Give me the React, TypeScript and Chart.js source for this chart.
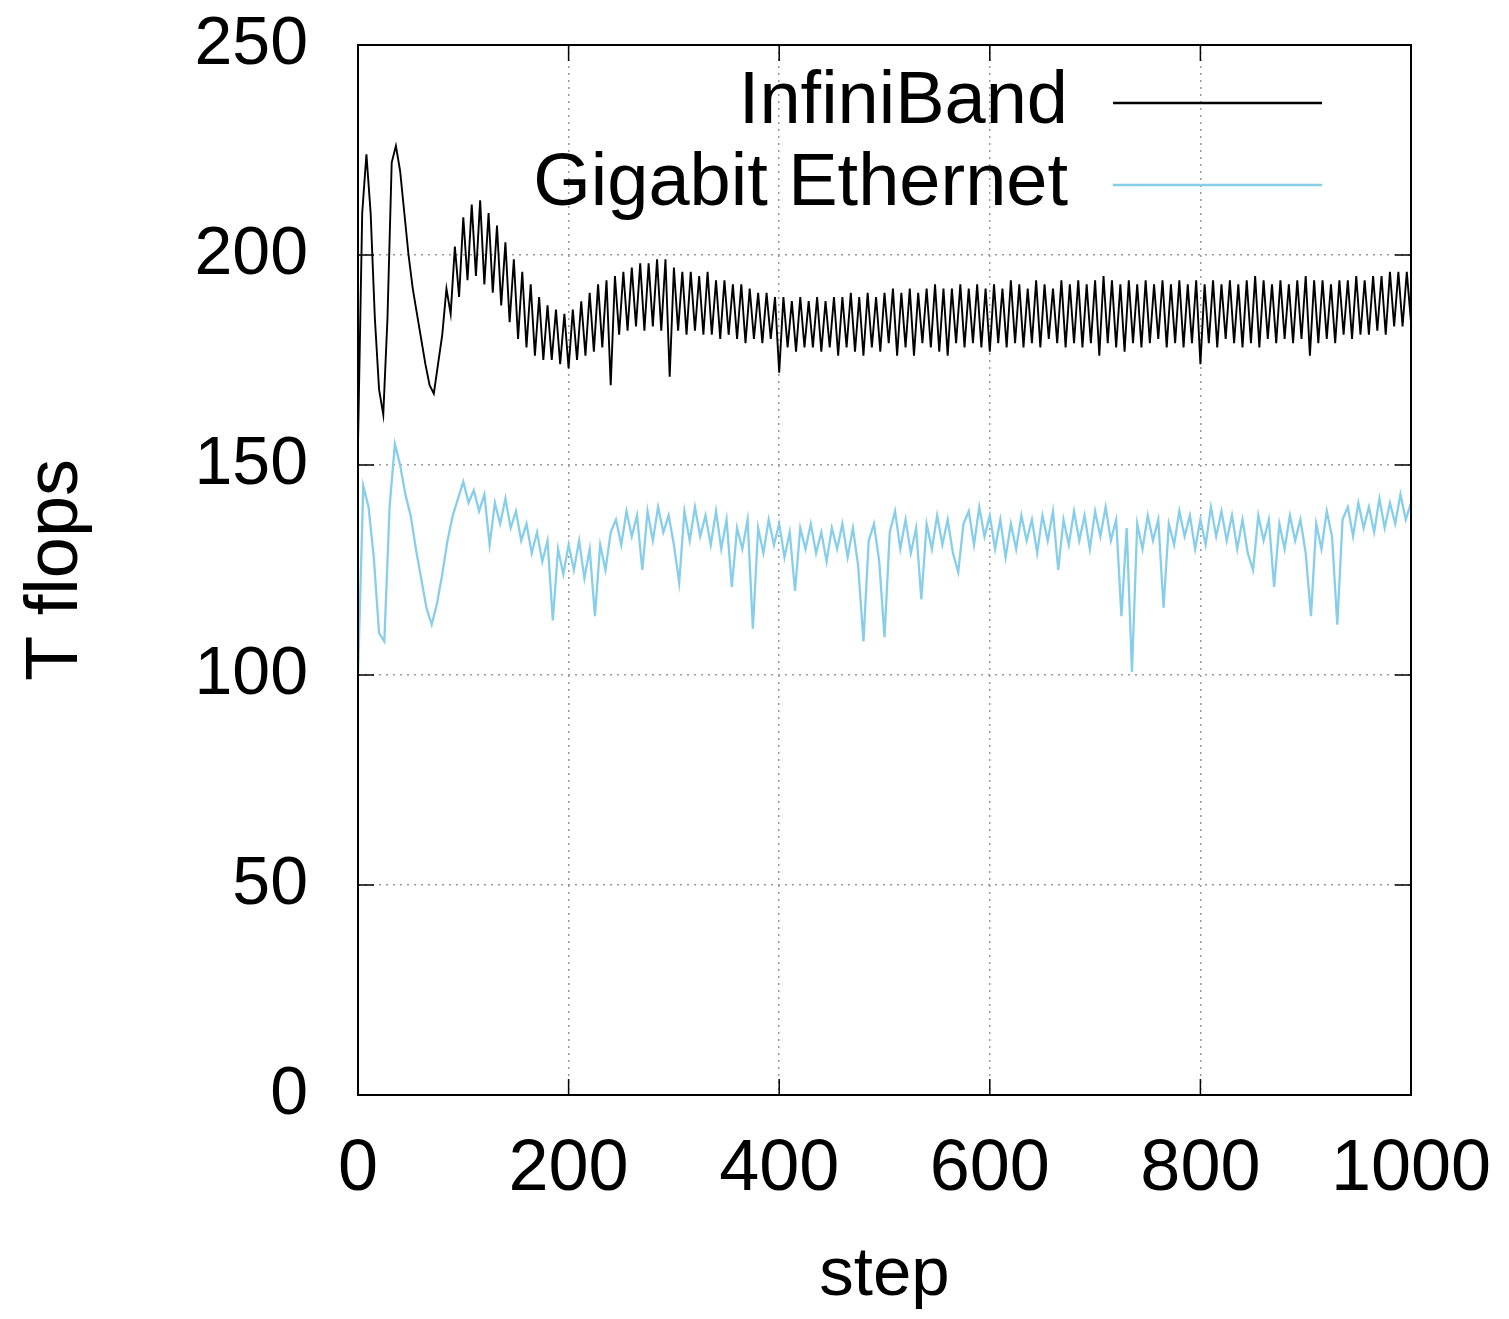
import React, { useEffect, useRef } from "react";
import { Chart, registerables } from "chart.js";

Chart.register(...registerables);

const FONT = '"Liberation Sans", Arial, Helvetica, sans-serif';

// Sampling grids (steps between stored values)
const INFINIBAND_STEP = 4;
const GIGABIT_STEP = 5;

const seriesLabels = ["InfiniBand", "Gigabit Ethernet"];
const seriesColors = ["#000000", "#87CEEB"];

const xTickValues = [0, 200, 400, 600, 800, 1000];
const yTickValues = [0, 50, 100, 150, 200, 250];

// InfiniBand T flops, one value every 4 steps (0..1000)
const infiniband = [
  155, 210, 224, 210, 185, 168, 162, 185, 222, 226, // 0-36
  220, 210, 200, 192, 186, 180, 174, 169, 167, 174, // 40-76
  181, 192, 186, 202, 190, 209, 194, 212, 195, 213, // 80-116
  193, 210, 191, 207, 188, 203, 184, 199, 180, 196, // 120-156
  178, 193, 176, 190, 175, 188, 175, 187, 174, 186, // 160-196
  173, 187, 175, 189, 176, 191, 177, 193, 178, 194, // 200-236
  169, 195, 181, 196, 182, 197, 183, 198, 182, 198, // 240-276
  183, 199, 182, 199, 171, 197, 182, 196, 181, 196, // 280-316
  182, 195, 181, 196, 181, 194, 180, 194, 181, 193, // 320-356
  180, 193, 179, 192, 180, 191, 179, 191, 180, 190, // 360-396
  172, 190, 178, 189, 177, 190, 178, 189, 178, 190, // 400-436
  177, 189, 178, 190, 176, 190, 178, 191, 177, 190, // 440-476
  176, 191, 178, 190, 177, 191, 179, 192, 176, 191, // 480-516
  178, 192, 176, 191, 179, 192, 178, 193, 177, 192, // 520-556
  176, 192, 179, 193, 178, 192, 179, 193, 178, 192, // 560-596
  177, 193, 179, 192, 178, 194, 179, 193, 178, 192, // 600-636
  179, 194, 178, 193, 180, 192, 179, 194, 178, 193, // 640-676
  179, 194, 178, 193, 179, 194, 176, 195, 179, 194, // 680-716
  178, 193, 177, 194, 179, 193, 178, 194, 179, 193, // 720-756
  180, 194, 178, 193, 179, 194, 178, 193, 179, 194, // 760-796
  174, 193, 179, 194, 178, 193, 180, 194, 179, 193, // 800-836
  178, 194, 179, 195, 178, 194, 180, 193, 179, 194, // 840-876
  180, 193, 179, 194, 180, 195, 176, 194, 179, 194, // 880-916
  180, 193, 179, 194, 181, 194, 180, 195, 181, 194, // 920-956
  181, 195, 182, 195, 181, 196, 183, 196, 183, 196, // 960-996
  184, // 1000
];

// Gigabit Ethernet T flops, one value every 5 steps (0..1000)
const gigabit = [
  100, 145, 140, 128, 110, 108, 140, 155, 150, 143, // 0-45
  138, 130, 123, 116, 112, 117, 124, 132, 138, 142, // 50-95
  146, 141, 144, 139, 143, 131, 141, 136, 142, 135, // 100-145
  139, 132, 136, 129, 134, 127, 132, 113, 130, 124, // 150-195
  131, 125, 132, 123, 130, 114, 131, 125, 134, 137, // 200-245
  131, 139, 133, 138, 125, 139, 132, 140, 134, 138, // 250-295
  131, 122, 139, 132, 140, 133, 138, 131, 139, 130, // 300-345
  137, 121, 135, 130, 137, 111, 135, 129, 137, 131, // 350-395
  136, 128, 134, 120, 135, 130, 136, 129, 134, 127, // 400-445
  135, 130, 136, 128, 135, 126, 108, 132, 136, 127, // 450-495
  109, 134, 139, 130, 137, 129, 135, 118, 136, 130, // 500-545
  138, 131, 137, 129, 124.5, 136, 139, 131, 140, 133, // 550-595
  138, 130, 137, 128, 136, 130, 138, 132, 137, 129, // 600-645
  138, 132, 139, 125, 137, 131, 139, 132, 138, 130, // 650-695
  139, 133, 140, 132, 137, 114, 135, 100.7, 136, 130, // 700-745
  138, 132, 137, 116, 136, 131, 139, 133, 138, 130, // 750-795
  137, 131, 140, 133, 139, 132, 138, 130, 137, 129, // 800-845
  125, 138, 132, 137, 121, 136, 130, 138, 132, 137, // 850-895
  129, 114, 136, 130, 139, 133, 112, 137, 140, 133, // 900-945
  141, 135, 140, 134, 142, 135, 141, 136, 143, 137, // 950-995
  141, // 1000
];

const toPoints = (values: number[], stepInterval: number) =>
  values.map((v, i) => ({ x: i * stepInterval, y: v }));

const framePlugin = {
  id: "gnuplotFrame",
  afterDraw(chart: any) {
    const { ctx, chartArea: a, scales } = chart;
    ctx.save();
    const TL = 16;
    ctx.strokeStyle = "#000";
    ctx.lineWidth = 1.5;
    ctx.setLineDash([]);
    scales.x.ticks.forEach((t: any) => {
      const px = scales.x.getPixelForValue(t.value);
      ctx.beginPath();
      ctx.moveTo(px, a.bottom);
      ctx.lineTo(px, a.bottom - TL);
      ctx.moveTo(px, a.top);
      ctx.lineTo(px, a.top + TL);
      ctx.stroke();
    });
    scales.y.ticks.forEach((t: any) => {
      const py = scales.y.getPixelForValue(t.value);
      ctx.beginPath();
      ctx.moveTo(a.left, py);
      ctx.lineTo(a.left + TL, py);
      ctx.moveTo(a.right, py);
      ctx.lineTo(a.right - TL, py);
      ctx.stroke();
    });
    ctx.lineWidth = 2;
    ctx.strokeRect(a.left, a.top, a.right - a.left, a.bottom - a.top);

    // key (legend) in the top-right corner, gnuplot style
    ctx.font = `74px ${FONT}`;
    ctx.textAlign = "right";
    ctx.textBaseline = "middle";
    chart.data.datasets.forEach((ds: any, i: number) => {
      const y = a.top + 58 + i * 82;
      ctx.fillStyle = "#000";
      ctx.fillText(ds.label, a.right - 343, y);
      ctx.strokeStyle = ds.borderColor;
      ctx.lineWidth = 2.4;
      ctx.beginPath();
      ctx.moveTo(a.right - 298, y);
      ctx.lineTo(a.right - 89, y);
      ctx.stroke();
    });
    ctx.restore();
  },
};

export default function App() {
  const ref = useRef<HTMLCanvasElement>(null);

  useEffect(() => {
    if (!ref.current) return;
    const chart = new Chart(ref.current, {
      type: "line",
      data: {
        datasets: [
          {
            label: seriesLabels[0],
            data: toPoints(infiniband, INFINIBAND_STEP),
            borderColor: seriesColors[0],
            borderWidth: 1.9,
            pointRadius: 0,
            tension: 0,
            fill: false,
          },
          {
            label: seriesLabels[1],
            data: toPoints(gigabit, GIGABIT_STEP),
            borderColor: seriesColors[1],
            borderWidth: 2.3,
            pointRadius: 0,
            tension: 0,
            fill: false,
          },
        ],
      },
      options: {
        responsive: false,
        animation: false,
        devicePixelRatio: 1,
        layout: { padding: { left: 0, right: 98, top: 45, bottom: 0 } },
        plugins: {
          legend: { display: false },
          tooltip: { enabled: false },
        },
        scales: {
          x: {
            type: "linear",
            min: 0,
            max: 1000,
            afterBuildTicks: (s: any) => {
              s.ticks = xTickValues.map((v) => ({ value: v }));
            },
            ticks: {
              color: "#000",
              font: { family: FONT, size: 72 },
              padding: 32,
              maxRotation: 0,
              autoSkip: false,
              callback: (v: any) => String(v),
            },
            grid: {
              color: "#9a9a9a",
              lineWidth: 1.5,
              drawTicks: false,
            },
            border: { display: false, dash: [2, 5] },
            title: {
              display: true,
              text: "step",
              color: "#000",
              font: { family: FONT, size: 69 },
              padding: { top: 0, bottom: 2 },
            },
            afterFit: (s: any) => {
              s.height = 224;
              s.paddingLeft = 0;
              s.paddingRight = 0;
            },
          },
          y: {
            type: "linear",
            min: 0,
            max: 250,
            afterBuildTicks: (s: any) => {
              s.ticks = yTickValues.map((v) => ({ value: v }));
            },
            ticks: {
              color: "#000",
              font: { family: FONT, size: 68 },
              padding: 50,
              autoSkip: false,
              callback: (v: any) => String(v),
            },
            grid: {
              color: "#9a9a9a",
              lineWidth: 1.5,
              drawTicks: false,
            },
            border: { display: false, dash: [2, 5] },
            title: {
              display: true,
              text: "T flops",
              color: "#000",
              font: { family: FONT, size: 74 },
              padding: { top: 12, bottom: 0 },
            },
            afterFit: (s: any) => {
              s.width = 358;
              s.paddingTop = 0;
              s.paddingBottom = 0;
            },
          },
        },
      },
      plugins: [framePlugin],
    });
    return () => chart.destroy();
  }, []);

  return (
    <canvas
      ref={ref}
      width={1509}
      height={1319}
      style={{ position: "absolute", left: 0, top: 0, display: "block" }}
    />
  );
}
